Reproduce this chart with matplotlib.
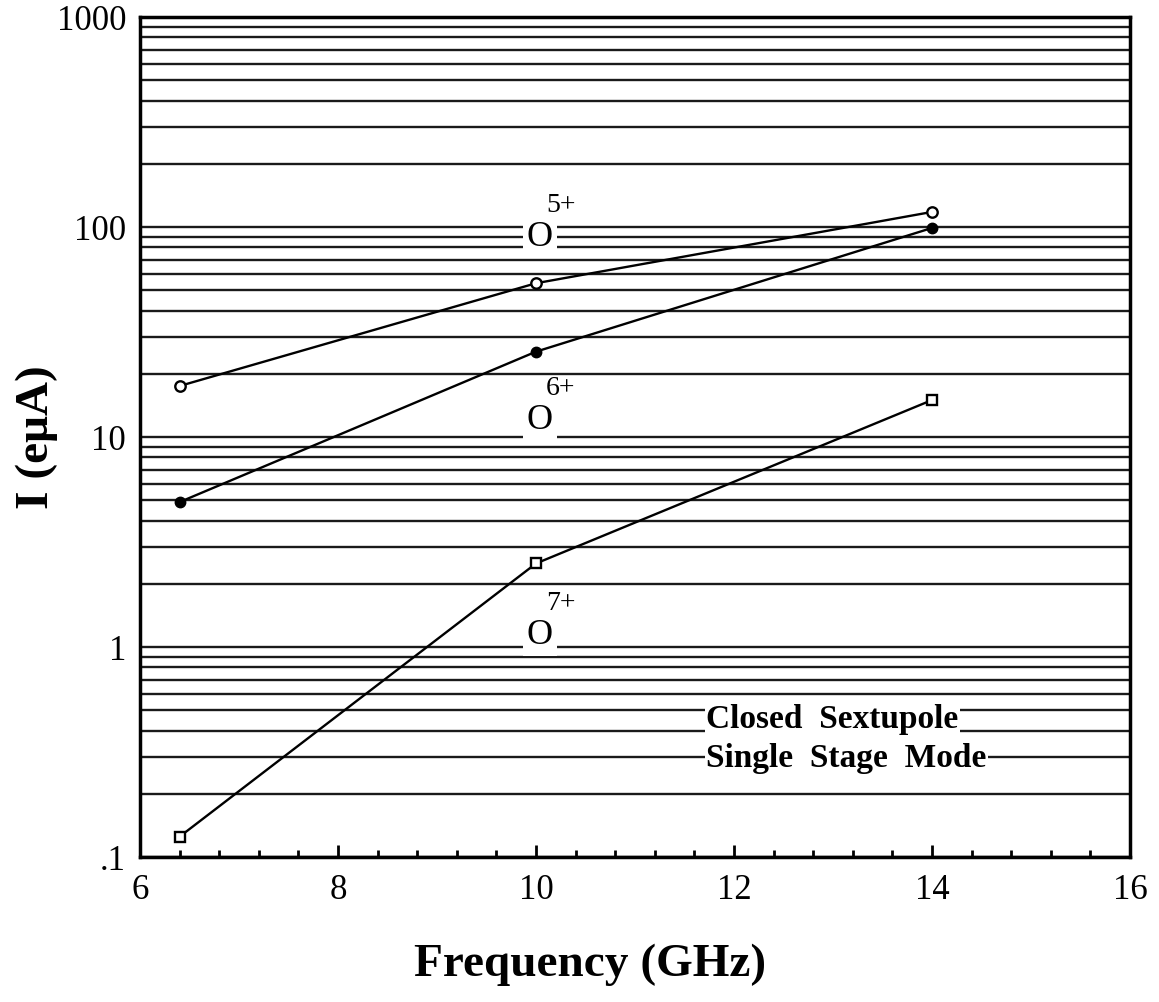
import matplotlib
matplotlib.use("Agg")
import matplotlib.pyplot as plt
from matplotlib.ticker import FixedLocator, MultipleLocator, NullFormatter
import numpy as np

freq = [6.4, 10.0, 14.0]
o5 = [17.5, 54.0, 118.0]
o6 = [4.9, 25.5, 99.0]
o7 = [0.125, 2.5, 15.0]

ion_labels = ["5+", "6+", "7+"]
ion_label_pos = [(10.04, 89.0), (10.04, 12.0), (10.04, 1.14)]
note_lines = ["Closed  Sextupole", "Single  Stage  Mode"]

ytick_vals = [0.1, 1, 10, 100, 1000]
ytick_labels = [".1", "1", "10", "100", "1000"]

plt.rcParams['font.family'] = ['Liberation Serif', 'DejaVu Serif']

fig = plt.figure(figsize=(11.59, 10.02), dpi=100)
ax = fig.add_axes([0.1208, 0.1447, 0.975 - 0.1208, 0.983 - 0.1447])
ax.set_yscale('log')
ax.set_xlim(6, 16)
ax.set_ylim(0.1, 1000)

# horizontal grid lines at every log minor position
grid_vals = []
for d in [0.1, 1, 10, 100]:
    for m in range(1, 10):
        grid_vals.append(d * m)
grid_vals.append(1000)
for g in grid_vals:
    ax.axhline(g, color='#1a1a1a', lw=1.7, zorder=1)

lw = 1.7
ax.plot(freq, o5, '-', color='black', lw=lw, marker='o', ms=7.5, mfc='white',
        mec='black', mew=1.7, zorder=4)
ax.plot(freq, o6, '-', color='black', lw=lw, marker='o', ms=7.5, mfc='black',
        mec='black', zorder=4)
ax.plot(freq, o7, '-', color='black', lw=lw, marker='s', ms=7.5, mfc='white',
        mec='black', mew=1.7, zorder=4)

for lab, (x, y) in zip(ion_labels, ion_label_pos):
    ax.text(x, y, "O", fontsize=26, ha='center', va='center', zorder=3,
            bbox=dict(facecolor='white', edgecolor='none', pad=3))
    ax.annotate(lab, xy=(x, y), xytext=(15, 23), textcoords='offset points',
                fontsize=20, ha='center', va='center', zorder=3)

note_y = [0.45, 0.296]
for txt, yy in zip(note_lines, note_y):
    ax.text(11.72, yy, txt, fontsize=24, fontweight='bold', ha='left',
            va='center', zorder=3,
            bbox=dict(facecolor='white', edgecolor='none', pad=1))

ax.xaxis.set_major_locator(MultipleLocator(2))
ax.xaxis.set_minor_locator(MultipleLocator(0.4))
ax.tick_params(axis='x', which='major', direction='in', length=9, width=2,
               labelsize=25, pad=12, top=False)
ax.tick_params(axis='x', which='minor', direction='in', length=5, width=2,
               top=False)

ax.yaxis.set_major_locator(FixedLocator(ytick_vals))
ax.set_yticklabels(ytick_labels)
ax.yaxis.set_minor_formatter(NullFormatter())
ax.tick_params(axis='y', which='both', length=0, labelsize=25, pad=10)

for s in ax.spines.values():
    s.set_linewidth(2.5)
    s.set_zorder(5)

ax.set_xlabel("Frequency (GHz)", fontsize=34, fontweight='bold')
ax.xaxis.set_label_coords(0.4545, -0.103)
ax.set_ylabel("I (eμA)", fontsize=34, fontweight='bold')
ax.yaxis.set_label_coords(-0.083, 0.5)

fig.savefig("out.png", dpi=100)
